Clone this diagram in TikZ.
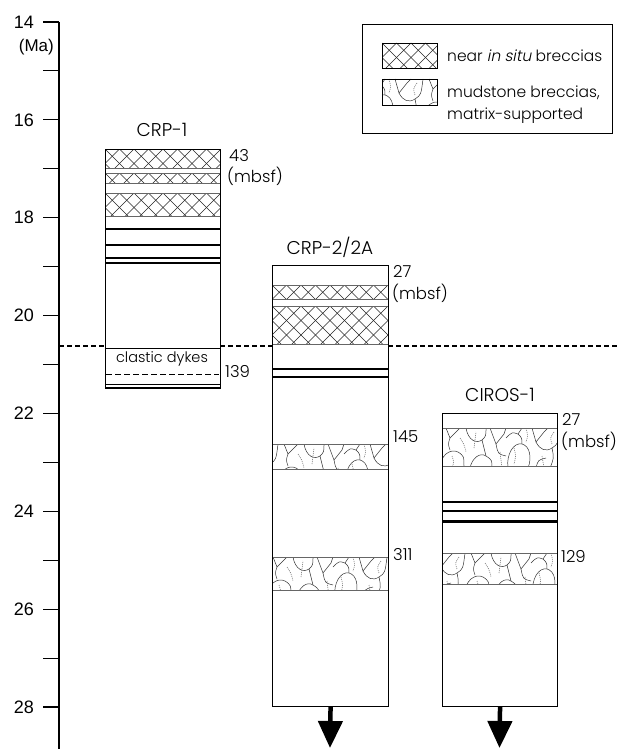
\documentclass[tikz,border=0pt]{standalone}
\usepackage{fontspec}
\setmainfont{Poppins}[UprightFont=* Light]
\newfontfamily\numfont{Liberation Sans}
\newfontfamily\slfont{Poppins}[UprightFont=* Light, FakeSlant=0.2]
\usetikzlibrary{arrows.meta}

\tikzset{
  hatchline/.style={line width=0.5pt, black!85},
  bandline/.style={line width=0.6pt, black!60},
  mudsolid/.style={line width=0.5pt, black!80},
  muddot/.style={line width=0.6pt, black!55, dash pattern=on 1pt off 1pt},
  colbox/.style={draw, line width=1.1pt, rectangle, inner sep=0pt, anchor=north west},
  thickbed/.style={line width=2.4pt},
  tickline/.style={line width=1.1pt},
  axislab/.style={font=\numfont\fontsize{18}{18}\selectfont, anchor=east, inner sep=0pt},
  collab/.style={font=\fontsize{18.5}{18.5}\selectfont, inner sep=0pt},
  depthlab/.style={font=\fontsize{16.5}{16.5}\selectfont, anchor=west, inner sep=0pt},
  legtext/.style={font=\fontsize{15.5}{15.5}\selectfont, anchor=west, inner sep=0pt},
  datum/.style={dash pattern=on 5pt off 3pt, line width=1.2pt},
  downarrow/.style={line width=4.5pt, -{Triangle[width=24pt,length=27pt]}},
}

% cross-hatched band: x1 y1 x2 y2
\newcommand{\xhatch}[4]{%
  \begin{scope}
    \clip (#1,#2) rectangle (#3,#4);
    \foreach \k in {-5,...,13} {
      \draw[hatchline] ({#1+\k*14.5},#2) -- ++(60,60);
      \draw[hatchline] ({#1+\k*14.5},#2) -- ++(-60,60);
    }
  \end{scope}
  \draw[bandline] (#1,#2) -- (#3,#2) (#1,#4) -- (#3,#4);
}

\newcommand{\mudtile}{%
  \draw[mudsolid] (0,10) .. controls (6,4) .. (12,6) -- (16,0);
  \draw[mudsolid] (2,40) .. controls (0,26) and (8,14) .. (16,16) .. controls (24,18) and (26,30) .. (22,40);
  \draw[mudsolid] (12,6) .. controls (16,10) .. (16,16);
  \draw[mudsolid] (26,0) -- (30,14) -- (38,4) -- (42,0);
  \draw[mudsolid] (30,14) .. controls (34,22) and (40,24) .. (46,20) .. controls (52,16) .. (54,0);
  \draw[mudsolid] (30,40) .. controls (32,32) .. (40,30);
  \draw[mudsolid] (46,20) .. controls (48,30) .. (44,40);
  \draw[mudsolid] (54,40) .. controls (54,28) and (64,20) .. (72,24) .. controls (78,28) .. (78,40);
  \draw[mudsolid] (60,0) -- (64,10) -- (72,2) -- (74,0);
  \draw[mudsolid] (64,10) .. controls (62,16) .. (64,22);
  \draw[mudsolid] (80,0) .. controls (82,12) and (90,16) .. (96,12) .. controls (100,8) .. (100,0);
  \draw[mudsolid] (84,40) .. controls (86,30) and (94,24) .. (100,28) .. controls (106,32) .. (106,40);
  \draw[mudsolid] (96,12) -- (100,28);
  \draw[mudsolid] (104,0) -- (110,16) -- (118,6) -- (120,0);
  \draw[mudsolid] (110,16) .. controls (112,26) .. (120,28);
  \draw[muddot] (20,0) .. controls (22,8) .. (20,14);
  \draw[muddot] (8,20) .. controls (10,28) .. (8,36);
  \draw[muddot] (36,28) -- (38,40);
  \draw[muddot] (48,4) .. controls (44,10) .. (46,16);
  \draw[muddot] (66,28) .. controls (68,34) .. (66,40);
  \draw[muddot] (88,20) -- (90,4);
  \draw[muddot] (114,24) -- (116,40);
  \draw[muddot] (74,10) .. controls (78,16) .. (80,24);
}

% mudstone breccia band: x1 y1 x2 y2
\newcommand{\mud}[4]{%
  \begin{scope}
    \clip (#1,#2) rectangle (#3,#4);
    \foreach \k in {0,1,2} {
      \begin{scope}[shift={({#1+\k*120-mod(#2*7,60)},#2)}]
        \mudtile
      \end{scope}
    }
  \end{scope}
  \draw[bandline] (#1,#2) -- (#3,#2) (#1,#4) -- (#3,#4);
}

\begin{document}
\begin{tikzpicture}[x=1pt,y=-1pt]
\useasboundingbox (0,0) rectangle (623,749);

% ---------- time axis ----------
\draw[line width=1.2pt] (59,22) -- (59,749);
\foreach \m in {14,...,28} {
  \draw[tickline] (43,{22+(\m-14)*48.93}) -- (59,{22+(\m-14)*48.93});
}
\foreach \m in {14,16,...,28} {
  \node[axislab] (ax\m) at (34,{22+(\m-14)*48.93}) {\m};
}
\node[font=\numfont\fontsize{17}{17}\selectfont, anchor=east, inner sep=0pt] (ma) at (54,47) {(Ma)};

% ---------- datum dashed line ----------
\draw[datum] (59,346) -- (105,346);
\draw[datum] (220,346) -- (272,346);
\draw[datum] (388,346) -- (618,346);

% ---------- CRP-1 ----------
\xhatch{105}{149}{220}{168}
\xhatch{105}{173}{220}{183}
\xhatch{105}{193}{220}{216}
\draw[thickbed] (105,229) -- (220,229);
\draw[thickbed] (105,245) -- (220,245);
\draw[thickbed] (105,258) -- (220,258);
\draw[line width=1.5pt] (105,263) -- (220,263);
\draw[line width=1pt] (105,348) -- (220,348);
\node[font=\fontsize{14.5}{14.5}\selectfont, inner sep=0pt] (dykes) at (162,359) {clastic dykes};
\draw[line width=0.9pt, dash pattern=on 6pt off 3pt] (106,374) -- (219,374);
\draw[line width=0.8pt] (105,384) -- (220,384);
\draw[line width=2pt] (105,387.5) -- (220,387.5);
\node[colbox, minimum width=115pt, minimum height=239pt] (crp1) at (105,149) {};
\node[collab] (crp1lab) at (162,130) {CRP-1};
\node[depthlab] (crp1top) at (229,155.5) {43};
\node[depthlab] (crp1unit) at (227,176) {(mbsf)};
\node[depthlab] (crp1bot) at (225,372) {139};

% ---------- CRP-2/2A ----------
\xhatch{272}{285}{388}{299}
\xhatch{272}{306}{388}{344}
\draw[line width=2.6pt] (272,369) -- (388,369);
\draw[line width=2pt] (272,377) -- (388,377);
\mud{272}{444}{388}{469}
\mud{272}{557}{388}{590}
\node[colbox, minimum width=116pt, minimum height=441pt] (crp2) at (272,265) {};
\node[collab] (crp2lab) at (330,247) {CRP-2/2A};
\node[depthlab] (crp2top) at (393,271.5) {27};
\node[depthlab] (crp2unit) at (392,293) {(mbsf)};
\node[depthlab] (crp2a) at (393,437) {145};
\node[depthlab] (crp2b) at (393,555) {311};
\coordinate (crp2end) at (330,748);
\draw[downarrow] (crp2.south) -- (crp2end);

% ---------- CIROS-1 ----------
\mud{442}{428}{557}{466}
\draw[line width=2.2pt] (442,502) -- (557,502);
\draw[line width=2.2pt] (442,511) -- (557,511);
\draw[line width=2.2pt] (442,521.5) -- (557,521.5);
\mud{442}{553}{557}{584}
\node[colbox, minimum width=115pt, minimum height=293pt] (ciros) at (442,413) {};
\node[collab] (ciroslab) at (500,395) {CIROS-1};
\node[depthlab] (cirostop) at (562,419.5) {27};
\node[depthlab] (cirosunit) at (561,441) {(mbsf)};
\node[depthlab] (cirosa) at (561,556) {129};
\coordinate (cirosend) at (499.5,748);
\draw[downarrow] (ciros.south) -- (cirosend);

% ---------- legend ----------
\node[draw, line width=0.9pt, rectangle, inner sep=0pt, anchor=north west,
      minimum width=250pt, minimum height=109pt] (legend) at (362,24) {};
\xhatch{382}{43}{437}{68}
\node[draw, line width=0.9pt, rectangle, inner sep=0pt, anchor=north west,
      minimum width=55pt, minimum height=25pt] (sw1) at (382,43) {};
\mud{382}{79}{437}{105}
\node[draw, line width=0.9pt, rectangle, inner sep=0pt, anchor=north west,
      minimum width=55pt, minimum height=26pt] (sw2) at (382,79) {};
\node[legtext] (leg1) at (447,56) {near {\slfont in situ} breccias};
\node[legtext] (leg2) at (447,93) {mudstone breccias,};
\node[legtext] (leg3) at (447,116) {matrix-supported};
\end{tikzpicture}
\end{document}
